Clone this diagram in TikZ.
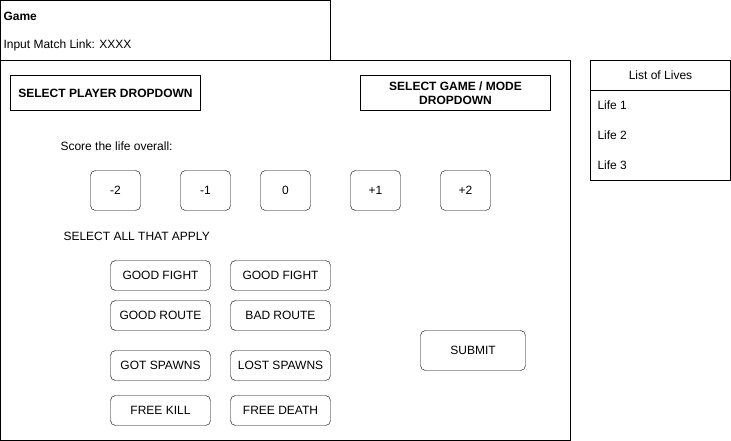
\documentclass[tikz,border=0pt]{standalone}
\usepackage{fontspec}
\setmainfont{Liberation Sans}
\usetikzlibrary{positioning}
\tikzset{
x=1pt, y=-1pt, % one unit is one pixel, y runs downwards
line width=1pt, % thin outlines everywhere
every node/.style={font=\fontsize{12}{14}\selectfont, inner sep=0pt, outer sep=0pt}, % plain 12px text
frame/.style={draw, anchor=north west}, % square boxes placed by their top left corner
btn/.style={draw, rounded corners=5pt, anchor=north west, minimum width=100pt, minimum height=30pt}, % option buttons
score/.style={btn, minimum width=50pt, minimum height=40pt}, % score buttons
label/.style={anchor=west}, % free text, left aligned
}

\begin{document}
\begin{tikzpicture}
            \useasboundingbox (-0.5,-0.5) rectangle (730.5,440.5);

            % game header and main panel
            \node[frame, minimum width=330pt, minimum height=60pt] (game) at (0,0) {};
            \node[label, font=\fontsize{12}{14}\selectfont\bfseries] (title) at (3,16) {Game};
            \node[label] (link) at (3,45) {Input Match Link: XXXX};
            \node[frame, minimum width=570pt, minimum height=380pt] (panel) at (0,60) {};

            % dropdowns
            \node[frame, minimum width=190pt, minimum height=35pt, font=\fontsize{12}{14}\selectfont\bfseries] (player) at (10,75) {SELECT PLAYER DROPDOWN};
            \node[frame, minimum width=190pt, minimum height=35pt, align=center, font=\fontsize{12}{14}\selectfont\bfseries] (mode) at (360,75) {SELECT GAME / MODE\\DROPDOWN};

            % list of lives
            \node[frame, minimum width=140pt, minimum height=30pt] (lives) at (590,60) {List of Lives};
            \node[frame, minimum width=140pt, minimum height=90pt] (livelist) at (590,90) {};
            \foreach \i in {1,2,3}
                \node[label] (life\i) at (597,75+30*\i) {Life \i};

            % score of the life
            \node[label] (scoretext) at (60,146) {Score the life overall:};
            \foreach \v/\x/\n in {-2/90/m2, -1/180/m1, 0/260/z0, +1/350/p1, +2/440/p2}
                \node[score] (\n) at (\x,170) {\v};

            % tags
            \node[label] (applytext) at (63,236) {SELECT ALL THAT APPLY};
            \node[btn] (goodfight) at (110,260) {GOOD FIGHT};
            \node[btn] (goodfight2) at (230,260) {GOOD FIGHT};
            \node[btn] (goodroute) at (110,300) {GOOD ROUTE};
            \node[btn] (badroute) at (230,300) {BAD ROUTE};
            \node[btn] (gotspawns) at (110,350) {GOT SPAWNS};
            \node[btn] (lostspawns) at (230,350) {LOST SPAWNS};
            \node[btn] (freekill) at (110,395) {FREE KILL};
            \node[btn] (freedeath) at (230,395) {FREE DEATH};

            \node[btn, minimum width=105pt, minimum height=40pt] (submit) at (420,330) {SUBMIT};
        \end{tikzpicture}
\end{document}
